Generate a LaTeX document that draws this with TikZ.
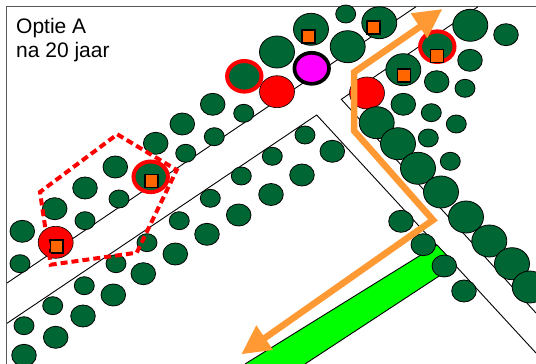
\documentclass[tikz,border=0pt]{standalone}
\usepackage{fontspec}
\setmainfont{Liberation Sans}
\definecolor{treegreen}{HTML}{006633}
\definecolor{pathorange}{HTML}{FF9933}
\definecolor{markorange}{HTML}{FF6600}
\definecolor{bandgreen}{HTML}{00FF00}
\definecolor{markmagenta}{HTML}{FF00FF}
\definecolor{purered}{HTML}{FF0000}
\tikzset{
  roadline/.style={draw=black,line width=0.9pt,line join=miter},
  treeshape/.style={fill=treegreen,draw=black,line width=0.8pt},
  redshape/.style={fill=purered,draw=black,line width=0.6pt},
  ringshape/.style={fill=treegreen,draw=purered,line width=4pt},
  magentashape/.style={fill=markmagenta,draw=black,line width=3.7pt},
  markbox/.style={fill=markorange,draw=black,line width=1.9pt},
  studyarea/.style={draw=purered,line width=4pt,dash pattern=on 7pt off 4pt},
  routeline/.style={draw=pathorange,line width=6.5pt,line join=miter,miter limit=10},
  routehead/.style={fill=pathorange,draw=none},
  framing/.style={draw=black!65,line width=1.3pt}
}
\begin{document}
\begin{tikzpicture}[x=1pt,y=-1pt]
\clip (0,0) rectangle (536,364);
\fill[white] (0,0) rectangle (536,364);
% frame
\draw[framing] (536,6.5) -- (6.5,6.5) -- (6.5,364);
% road lines
\draw[roadline] (7,283) -- (416,6.7);
\draw[roadline] (7,323.3) -- (316.7,115) -- (536,353);
\draw[roadline] (478,6.7) -- (341.3,99.3) -- (536,313);
% green band
\path[fill=bandgreen,draw=black,line width=0.9pt] (245,364) -- (437,245) -- (456,265) -- (305,364);
% red trees
\foreach \x/\y in {277/91.7,367/93,55.7/242.3}
  \path[redshape] (\x,\y) ellipse [x radius=17.5,y radius=16];
% small trees
\foreach \x/\y in {243.7/113.3,214.3/136.7,185.7/153.3,345.7/14,465/88.3,431.3/112.7,456.3/124,428.3/138,450.3/161.3,305/135,272.3/156.3,119/199,85/220.7,20/263.7,241.3/176,210.3/198.3,179.3/220.7,147/242.7,116/263.7,84.3/285.7,52.7/305.7,24/325.7}
  \path[treeshape] (\x,\y) ellipse [x radius=10,y radius=9];
% medium trees
\foreach \x/\y in {212.7/104.3,182.3/124,155.7/143.3,115.3/167,506/34.7,470/60.3,436.7/81.7,403.3/104.3,332.3/151.3,302/175,271/194.5,85/188,54.7/208.7,22.3/231.3,238.7/215,207/234.3,175.3/254,143.3/273.7,113.3/295,83/316,55.7/337.3,24/355.3,401/221.3,423.3/244.7,444.3/266,464/291}
  \path[treeshape] (\x,\y) ellipse [x radius=12.3,y radius=11];
% large trees
\foreach \x/\y in {277/52,311/29.3,379.3/22.7,347.7/46.7,470.3/25.3,403.3/69.7,376.7/122.7,398/143.7,418/168.3,441/192,466/217,489.3/241,512/263.7,529.7/287}
  \path[treeshape] (\x,\y) ellipse [x radius=17.5,y radius=16];
% ringed trees
\foreach \x/\y in {244.3/76.3,437.3/46.7,150.7/176.8}
  \path[ringshape] (\x,\y) ellipse [x radius=17.2,y radius=15.3];
% magenta marker
\path[magentashape] (311.7,68.3) ellipse [x radius=17.3,y radius=15.5];
% orange squares
\foreach \x/\y in {308.7/36.3,373.7/27.3,437/56,404/75.7,151.7/181,56.7/246.7}
  \path[markbox] (\x-6.5,\y-6.5) rectangle (\x+6.5,\y+6.5);
% study area
\draw[studyarea] (117.3,134.3) -- (176.7,170) -- (136.7,252.7) -- (50.7,264.7) -- (40,192) -- cycle;
% route
\draw[routeline] (424,24) -- (354,72.3) -- (354,130.7) -- (433,220) -- (262,340);
\path[routehead] (442,9.3) -- (410.7,13.3) -- (427.3,38.3) -- cycle;
\path[routehead] (241.7,354) -- (256.3,325.3) -- (273,350) -- cycle;
% title
\node[anchor=base west,inner sep=0pt,align=left,font=\fontsize{21}{24}\selectfont] (title) at (16,57) {Optie A\\na 20 jaar};
\end{tikzpicture}
\end{document}
